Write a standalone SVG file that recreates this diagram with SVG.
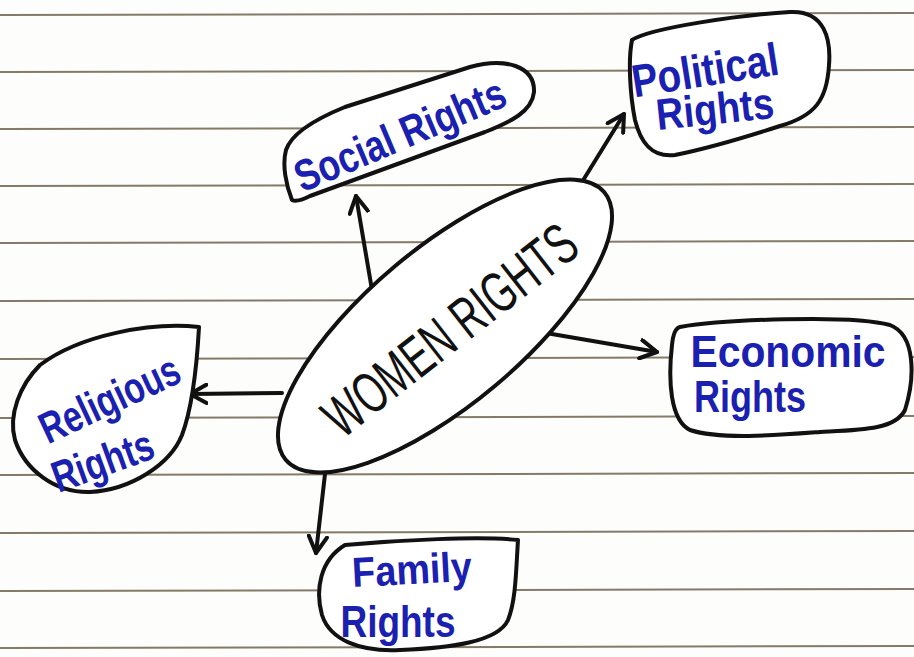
<svg xmlns="http://www.w3.org/2000/svg" width="914" height="657" viewBox="0 0 914 657">
<defs>
<style>
.rule{stroke:#857a69;stroke-width:2;fill:none}
.shape{fill:#ffffff;stroke:#111;stroke-width:4;stroke-linejoin:round}
.conn{stroke:#111;stroke-width:4;fill:none;stroke-linecap:round}
.lbl{font-family:"Liberation Sans","DejaVu Sans",sans-serif;fill:#1a20b0;font-weight:bold}
.main{font-family:"Liberation Sans","DejaVu Sans",sans-serif;fill:#111}
</style>
<marker id="arr" viewBox="0 0 12 12" refX="10" refY="6" markerWidth="5.5" markerHeight="5.5" orient="auto" markerUnits="strokeWidth">
<path d="M1,1 L10,6 L1,11" fill="none" stroke="#111" stroke-width="2.2" stroke-linecap="round" stroke-linejoin="round"/>
</marker>
</defs>
<rect width="914" height="657" fill="#fdfdfb"/>
<g id="paper">
<path class="rule" d="M0,15 L914,13"/>
<path class="rule" d="M0,72 L914,70"/>
<path class="rule" d="M0,129 L914,127"/>
<path class="rule" d="M0,186 L914,184"/>
<path class="rule" d="M0,243 L914,241"/>
<path class="rule" d="M0,301 L914,299"/>
<path class="rule" d="M0,359 L914,357"/>
<path class="rule" d="M0,418 L914,416"/>
<path class="rule" d="M0,475 L914,473"/>
<path class="rule" d="M0,533 L914,531"/>
<path class="rule" d="M0,591 L914,589"/>
<path class="rule" d="M0,648 L914,646"/>
</g>
<g id="connectors">
<path class="conn" d="M372,290 L356,196" marker-end="url(#arr)"/>
<path class="conn" d="M582,182 L624,114" marker-end="url(#arr)"/>
<path class="conn" d="M546,333 L657,352" marker-end="url(#arr)"/>
<path class="conn" d="M282,393 L190,394" marker-end="url(#arr)"/>
<path class="conn" d="M325,474 L316,553" marker-end="url(#arr)"/>
</g>
<g id="women-rights">
<ellipse class="shape" cx="445" cy="326" rx="208" ry="78" transform="rotate(-40 445 326)"/>
<text class="main" x="450" y="350" font-size="58" text-anchor="middle" textLength="305" lengthAdjust="spacingAndGlyphs" transform="rotate(-38 450 330)">WOMEN RIGHTS</text>
</g>
<g id="social-rights">
<path class="shape" d="M292,200 C286,185 282,165 286,150 C292,132 318,118 345,107 L470,67 C505,57 535,66 534,92 C532,112 510,122 485,132 L310,196 C302,200 296,202 292,200 Z"/>
<text class="lbl" x="400" y="150" font-size="44" text-anchor="middle" textLength="225" lengthAdjust="spacingAndGlyphs" transform="rotate(-23 400 135)">Social Rights</text>
</g>
<g id="political-rights">
<path class="shape" d="M632,40 C650,28 740,15 790,12 C825,10 831,40 829,65 C827,100 815,116 780,126 C740,139 700,150 675,155 C650,158 640,140 635,120 C630,95 628,60 632,40 Z"/>
<text class="lbl" x="705" y="86" font-size="46" text-anchor="middle" textLength="148" lengthAdjust="spacingAndGlyphs" transform="rotate(-9 705 70)">Political</text>
<text class="lbl" x="715" y="124" font-size="44" text-anchor="middle" textLength="118" lengthAdjust="spacingAndGlyphs" transform="rotate(-6 715 110)">Rights</text>
</g>
<g id="economic-rights">
<path class="shape" d="M680,327 C720,320 850,314 890,325 C916,335 915,378 905,410 C895,430 860,430 820,432 C780,435 720,440 690,430 C670,420 668,380 672,345 C673,335 675,328 680,327 Z"/>
<text class="lbl" x="788" y="367" font-size="44" text-anchor="middle" textLength="195" lengthAdjust="spacingAndGlyphs">Economic</text>
<text class="lbl" x="750" y="412" font-size="44" text-anchor="middle" textLength="112" lengthAdjust="spacingAndGlyphs">Rights</text>
</g>
<g id="religious-rights">
<path class="shape" d="M199,327 C198,345 195,400 182,435 C170,465 130,490 90,492 C55,493 25,470 15,440 C8,415 20,385 40,365 C80,335 150,322 199,327 Z"/>
<text class="lbl" x="110" y="414" font-size="44" text-anchor="middle" textLength="150" lengthAdjust="spacingAndGlyphs" transform="rotate(-25 110 400)">Religious</text>
<text class="lbl" x="103" y="476" font-size="44" text-anchor="middle" textLength="105" lengthAdjust="spacingAndGlyphs" transform="rotate(-20 103 462)">Rights</text>
</g>
<g id="family-rights">
<path class="shape" d="M345,545 C400,540 480,536 518,540 C516,570 516,600 508,620 C498,642 450,648 400,650 C360,652 330,640 322,615 C315,590 320,560 345,545 Z"/>
<text class="lbl" x="412" y="584" font-size="42" text-anchor="middle" textLength="120" lengthAdjust="spacingAndGlyphs" transform="rotate(-3 412 570)">Family</text>
<text class="lbl" x="398" y="637" font-size="44" text-anchor="middle" textLength="115" lengthAdjust="spacingAndGlyphs">Rights</text>
</g>
</svg>
